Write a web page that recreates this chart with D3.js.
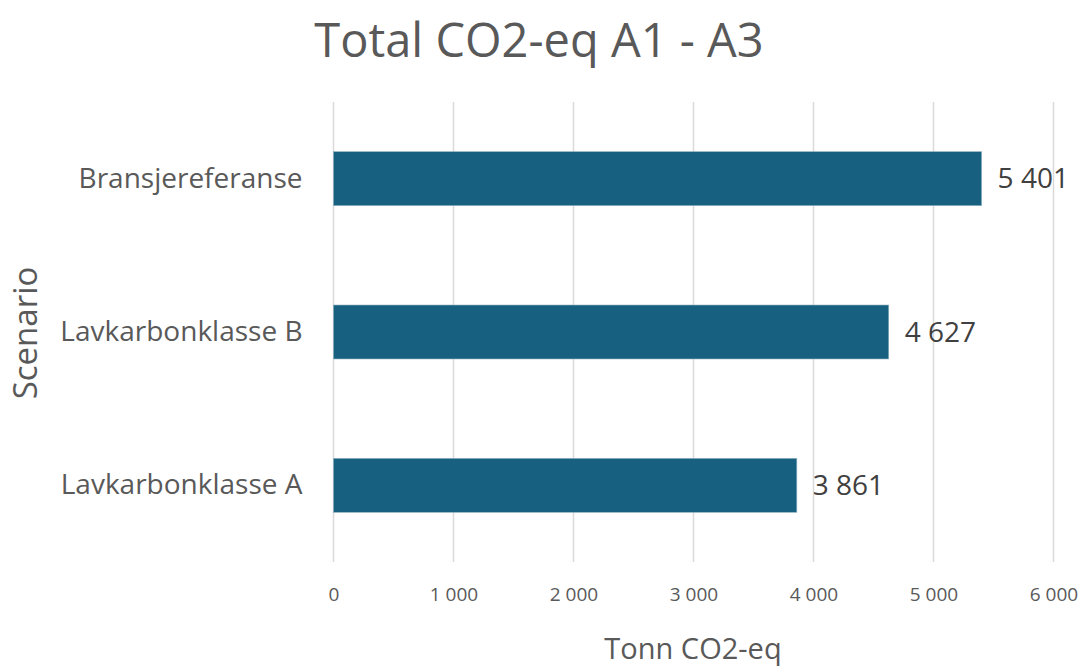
<!DOCTYPE html>
<html>
<head>
<meta charset="utf-8">
<script src="https://cdn.jsdelivr.net/npm/d3@7"></script>
<style>
  html, body { margin: 0; padding: 0; background: #fff; }
  svg { display: block; font-family: "Open Sans", "Liberation Sans", sans-serif; }
</style>
</head>
<body>
<svg id="chart" width="1085" height="668"></svg>
<script>
// Scenario categories, top to bottom
const categories = ["Bransjereferanse", "Lavkarbonklasse B", "Lavkarbonklasse A"];
// Total CO2-eq (tonnes), A1-A3
const values = [5401, 4627, 3861];
// X-axis ticks
const tickValues = [0, 1000, 2000, 3000, 4000, 5000, 6000];

const titleText = "Total CO2-eq A1 - A3";
const xTitle = "Tonn CO2-eq";
const yTitle = "Scenario";

const svg = d3.select("#chart");
const margin = { left: 333.5, right: 31.5, top: 102, bottom: 106 };
const W = 1085, H = 668;

const locale = d3.formatLocale({ decimal: ",", thousands: "\u00a0", grouping: [3], currency: ["", " kr"] });
const fmt = locale.format(",d");

const x = d3.scaleLinear().domain([0, 6000]).range([margin.left, W - margin.right]);
const y = d3.scaleBand().domain(categories).range([margin.top, H - margin.bottom]).paddingInner(0.648).paddingOuter(0.324);

// Vertical gridlines
svg.append("g")
  .selectAll("line")
  .data(tickValues)
  .join("line")
  .attr("x1", d => x(d)).attr("x2", d => x(d))
  .attr("y1", margin.top).attr("y2", H - margin.bottom)
  .attr("stroke", "#d9d9d9").attr("stroke-width", 1.5);

// X axis labels
const xAxis = d3.axisBottom(x).tickValues(tickValues).tickFormat(fmt).tickSize(0).tickPadding(0);
const gx = svg.append("g").attr("transform", `translate(0,${H - margin.bottom + 25})`).call(xAxis);
gx.select(".domain").remove();
gx.selectAll("text")
  .attr("dy", "0.71em")
  .attr("font-size", 19)
  .attr("fill", "#595959")
  .attr("font-family", "'Open Sans', sans-serif");

// Y axis labels
const yAxis = d3.axisLeft(y).tickSize(0).tickPadding(31);
const gy = svg.append("g").attr("transform", `translate(${margin.left},0)`).call(yAxis);
gy.select(".domain").remove();
gy.selectAll("text")
  .attr("font-size", 28)
  .attr("fill", "#595959")
  .attr("font-family", "'Open Sans', sans-serif");

// Bars
const data = categories.map((c, i) => ({ c, v: values[i] }));
svg.append("g")
  .selectAll("rect")
  .data(data)
  .join("rect")
  .attr("x", x(0))
  .attr("y", d => y(d.c))
  .attr("width", d => x(d.v) - x(0))
  .attr("height", y.bandwidth())
  .attr("fill", "#17607f")
  .attr("stroke", "#8fb1c2")
  .attr("stroke-width", 0.6);

// Value labels
svg.append("g")
  .selectAll("text")
  .data(data)
  .join("text")
  .attr("x", d => x(d.v) + 16)
  .attr("y", d => y(d.c) + y.bandwidth() / 2)
  .attr("dy", "0.35em")
  .attr("font-size", 28)
  .attr("fill", "#404040")
  .text(d => fmt(d.v));

// Title
svg.append("text")
  .attr("x", 539).attr("y", 57)
  .attr("text-anchor", "middle")
  .attr("font-size", 47)
  .attr("fill", "#595959")
  .text(titleText);

// Axis titles
svg.append("text")
  .attr("x", 693).attr("y", 659)
  .attr("text-anchor", "middle")
  .attr("font-size", 29)
  .attr("fill", "#595959")
  .text(xTitle);

svg.append("text")
  .attr("transform", "translate(37,333) rotate(-90)")
  .attr("text-anchor", "middle")
  .attr("font-size", 33)
  .attr("fill", "#595959")
  .text(yTitle);
</script>
</body>
</html>
